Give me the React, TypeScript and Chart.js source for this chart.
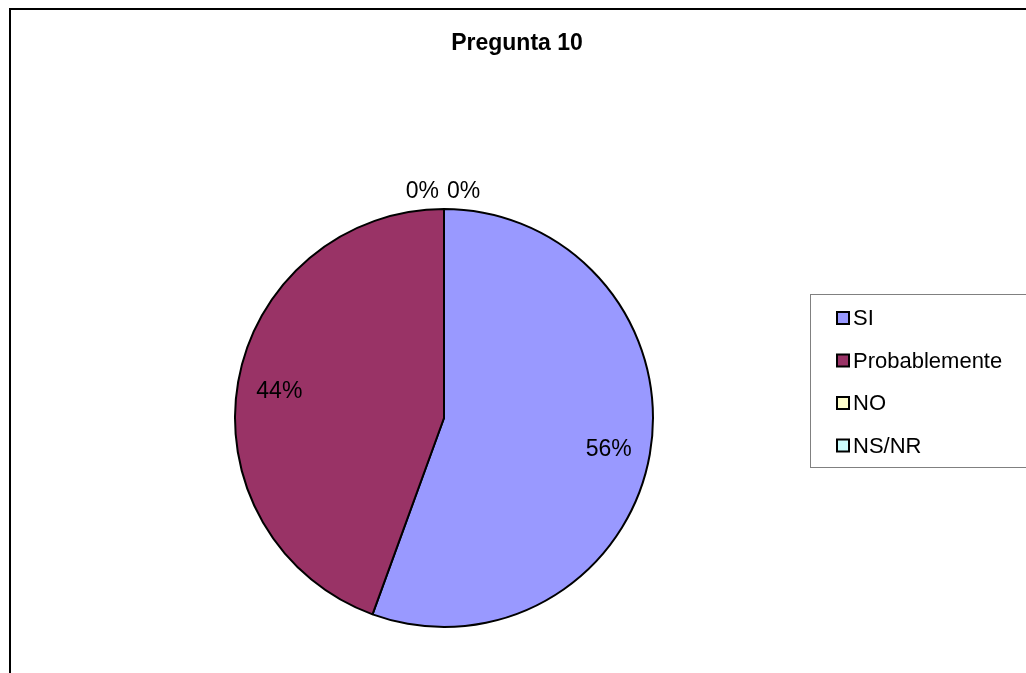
import React, { useEffect, useRef } from "react";
import { Chart, registerables } from "chart.js";

Chart.register(...registerables);

const title = "Pregunta 10";
const categories = ["SI", "Probablemente", "NO", "NS/NR"];
const responses = [5, 4, 0, 0];
const sliceColors = ["#9999FF", "#993366", "#FFFFCC", "#CCFFFF"];

const FONT = '"Liberation Sans", Arial, sans-serif';

// Frame, title, percentage labels and the boxed legend drawn on the canvas.
const decorations = {
  id: "decorations",
  afterDraw(chart: any) {
    const ctx = chart.ctx as CanvasRenderingContext2D;
    const W = chart.width;
    const H = chart.height;
    ctx.save();

    // outer frame (open towards the right and bottom edges)
    ctx.strokeStyle = "#000000";
    ctx.lineWidth = 2;
    ctx.beginPath();
    ctx.moveTo(W + 5, 9);
    ctx.lineTo(10, 9);
    ctx.lineTo(10, H + 5);
    ctx.stroke();

    // title
    ctx.fillStyle = "#000000";
    ctx.font = `bold 23px ${FONT}`;
    ctx.textAlign = "center";
    ctx.textBaseline = "alphabetic";
    ctx.fillText(title, 517, 50);

    // percentage labels
    const meta = chart.getDatasetMeta(0);
    const data = chart.data.datasets[0].data as number[];
    const total = data.reduce((a, b) => a + b, 0);
    ctx.font = `23px ${FONT}`;
    ctx.textBaseline = "middle";
    let zeroCount = 0;
    meta.data.forEach((arc: any, i: number) => {
      const { x, y, startAngle, endAngle, outerRadius } = arc.getProps(
        ["x", "y", "startAngle", "endAngle", "outerRadius"],
        true
      );
      const value = data[i];
      const text = `${Math.round((value / total) * 100)}%`;
      if (value > 0) {
        const mid = (startAngle + endAngle) / 2;
        const r = outerRadius * 0.8;
        ctx.textAlign = "center";
        ctx.fillText(text, x + r * Math.cos(mid), y + r * Math.sin(mid) + 3);
      } else {
        const r = outerRadius + 18;
        const px = x + r * Math.cos(startAngle);
        const py = y + r * Math.sin(startAngle);
        if (zeroCount % 2 === 0) {
          ctx.textAlign = "right";
          ctx.fillText(text, px - 5, py + 1);
        } else {
          ctx.textAlign = "left";
          ctx.fillText(text, px + 3, py + 1);
        }
        zeroCount++;
      }
    });

    // legend box
    ctx.strokeStyle = "#808080";
    ctx.lineWidth = 1;
    ctx.strokeRect(810.5, 294.5, W, 173);
    ctx.font = `22px ${FONT}`;
    ctx.textAlign = "left";
    ctx.textBaseline = "middle";
    chart.data.labels.forEach((label: string, i: number) => {
      const cy = 318 + i * 42.5;
      ctx.fillStyle = sliceColors[i];
      ctx.fillRect(837, cy - 6, 12, 12);
      ctx.strokeStyle = "#000000";
      ctx.lineWidth = 2;
      ctx.strokeRect(837, cy - 6, 12, 12);
      ctx.fillStyle = "#000000";
      ctx.fillText(label, 853, cy + 1);
    });

    ctx.restore();
  },
};

export default function App() {
  const canvasRef = useRef<HTMLCanvasElement | null>(null);

  useEffect(() => {
    if (!canvasRef.current) return;
    const chart = new Chart(canvasRef.current, {
      type: "pie",
      data: {
        labels: categories,
        datasets: [
          {
            data: responses,
            backgroundColor: sliceColors,
            borderColor: "#000000",
            borderWidth: 2,
            hoverOffset: 0,
          },
        ],
      },
      options: {
        responsive: false,
        animation: false,
        layout: {
          padding: { left: 234, right: 372, top: 208, bottom: 45 },
        },
        plugins: {
          legend: { display: false },
          title: { display: false },
          tooltip: { enabled: false },
        },
      },
      plugins: [decorations],
    });
    return () => chart.destroy();
  }, []);

  return (
    <div
      style={{
        position: "fixed",
        left: 0,
        top: 0,
        width: 1026,
        height: 673,
        background: "#ffffff",
      }}
    >
      <canvas ref={canvasRef} width={1026} height={673} />
    </div>
  );
}
